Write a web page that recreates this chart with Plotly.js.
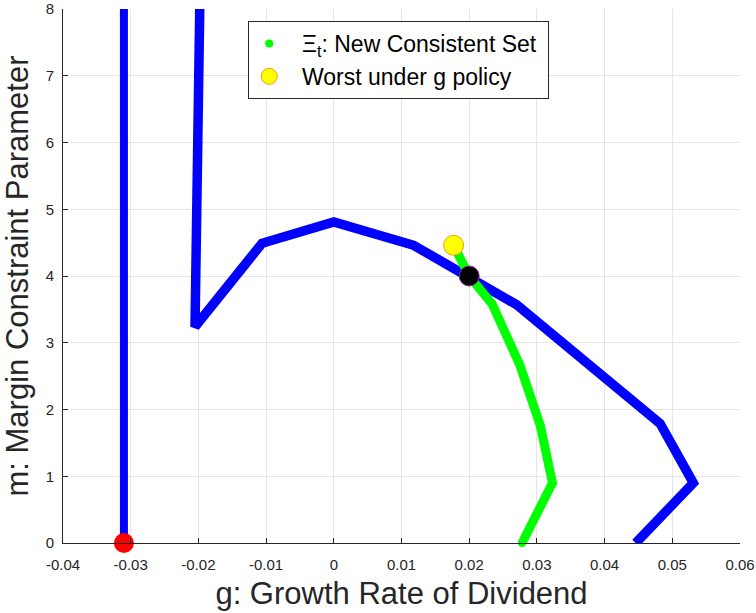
<!DOCTYPE html>
<html>
<head>
<meta charset="utf-8">
<script src="https://cdn.plot.ly/plotly-3.0.1.min.js"></script>
<style>html,body{margin:0;padding:0;background:#fff;}#chart{width:756px;height:613px;}</style>
</head>
<body>
<div id="chart"></div>
<script>
// Left boundary (vertical line)
var leftG = [-0.031, -0.031];
var leftM = [0, 8];
// Main boundary curve
var boundG = [-0.0198, -0.0205, -0.0106, 0.0000, 0.0118, 0.0270, 0.0482, 0.0531, 0.0446];
var boundM = [8.00, 3.24, 4.49, 4.81, 4.46, 3.57, 1.79, 0.90, 0.00];
// New consistent set (green)
var consG = [0.0177, 0.0200, 0.0234, 0.0275, 0.0305, 0.0323, 0.0278];
var consM = [4.46, 4.00, 3.58, 2.66, 1.76, 0.90, 0.00];
// Special points
var worstG = [0.0177], worstM = [4.46];
var blackG = [0.0200], blackM = [4.00];
var redG = [-0.031], redM = [0];

var xTicks = [-0.04, -0.03, -0.02, -0.01, 0, 0.01, 0.02, 0.03, 0.04, 0.05, 0.06];
var xTickText = ['-0.04', '-0.03', '-0.02', '-0.01', '0', '0.01', '0.02', '0.03', '0.04', '0.05', '0.06'];
var yTicks = [0, 1, 2, 3, 4, 5, 6, 7, 8];
var legendNames = ['\u039E<sub>t</sub>: New Consistent Set', 'Worst under g policy'];

var BLUE = '#0000ff', GREEN = '#00ff00';
var PAD = '\u00a0\u00a0';

var traces = [
  {x: leftG, y: leftM, mode: 'lines', line: {color: BLUE, width: 8}, showlegend: false, hoverinfo: 'skip'},
  {x: boundG, y: boundM, mode: 'lines', line: {color: BLUE, width: 9.5}, showlegend: false, hoverinfo: 'skip'},
  {x: consG, y: consM, mode: 'lines', line: {color: GREEN, width: 9}, showlegend: false, hoverinfo: 'skip'},
  {x: consG, y: consM, mode: 'markers', marker: {color: GREEN, size: 8}, name: PAD + legendNames[0] + '\u00a0'},
  {x: worstG, y: worstM, mode: 'markers', marker: {color: '#ffff00', size: 20, line: {color: '#e8a000', width: 1}}, name: PAD + legendNames[1]},
  {x: blackG, y: blackM, mode: 'markers', marker: {color: '#000000', size: 20, line: {color: '#8a2a8a', width: 1}}, showlegend: false},
  {x: redG, y: redM, mode: 'markers', marker: {color: '#ff0000', size: 20}, showlegend: false}
];
traces.forEach(function(t){ t.cliponaxis = false; });

var layout = {
  width: 756, height: 613,
  margin: {l: 63, r: 16, t: 9, b: 70},
  paper_bgcolor: '#ffffff', plot_bgcolor: '#ffffff',
  font: {family: 'Liberation Sans, Arial, sans-serif', color: '#262626'},
  showlegend: true,
  legend: {
    x: 0.2736, y: 0.9775, xanchor: 'left', yanchor: 'top',
    bgcolor: '#ffffff', bordercolor: '#262626', borderwidth: 1,
    font: {size: 23, color: '#000000', family: 'Liberation Sans, Arial, sans-serif'},
    itemsizing: 'trace'
  },
  xaxis: {
    range: [-0.04, 0.06], tickvals: xTicks, ticktext: xTickText,
    showgrid: true, gridcolor: '#e5e5e5', gridwidth: 1,
    zeroline: false, showline: true, linecolor: '#262626', linewidth: 1,
    ticks: 'inside', ticklen: 5, tickcolor: '#262626',
    tickfont: {size: 15, color: '#262626'}, ticklabelstandoff: 8,
    title: {text: 'g: Growth Rate of Dividend', font: {size: 31, color: '#262626'}, standoff: 10},
    automargin: false
  },
  yaxis: {
    range: [0, 8], tickvals: yTicks,
    showgrid: true, gridcolor: '#e5e5e5', gridwidth: 1,
    zeroline: false, showline: true, linecolor: '#262626', linewidth: 1,
    ticks: 'inside', ticklen: 5, tickcolor: '#262626',
    tickfont: {size: 15, color: '#262626'}, ticklabelstandoff: 5,
    title: {text: 'm: Margin Constraint Parameter', font: {size: 31, color: '#262626'}, standoff: 10},
    automargin: false
  }
};

Plotly.newPlot('chart', traces, layout, {displayModeBar: false, staticPlot: true});
</script>
</body>
</html>
